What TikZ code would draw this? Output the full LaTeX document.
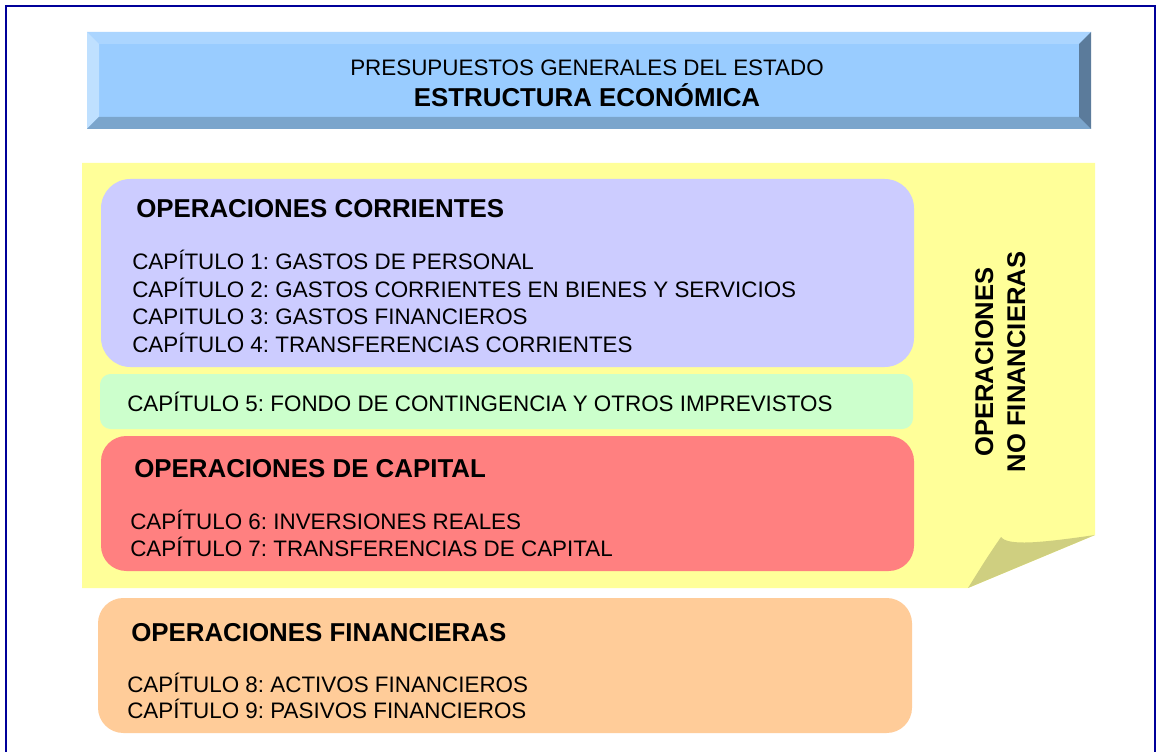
\documentclass[tikz,border=0pt]{standalone}
\usepackage{fontspec}
\setmainfont{Liberation Sans}
\frenchspacing
\definecolor{frameblue}{HTML}{000099}
\definecolor{bannermid}{HTML}{99CCFF}
\definecolor{bevtop}{HTML}{ABD5FF}
\definecolor{bevleft}{HTML}{BFE0FF}
\definecolor{bevbot}{HTML}{7BA5CC}
\definecolor{bevright}{HTML}{5B7B9B}
\definecolor{noteyellow}{HTML}{FFFF99}
\definecolor{foldshadow}{HTML}{CFCF80}
\definecolor{corrpurple}{HTML}{CCCCFF}
\definecolor{contgreen}{HTML}{CCFFCC}
\definecolor{capred}{HTML}{FF8080}
\definecolor{finorange}{HTML}{FFCC99}
\tikzset{
  chap/.style={anchor=base west, inner sep=0pt, font=\fontsize{16.8pt}{20pt}\selectfont\frenchspacing},
  ttl/.style={anchor=base west, inner sep=0pt, font=\fontsize{19.4pt}{22pt}\selectfont\bfseries},
  vert/.style={anchor=base, inner sep=0pt, rotate=90, font=\fontsize{19.2pt}{22pt}\selectfont\bfseries},
}
\begin{document}
\begin{tikzpicture}[x=0.75pt,y=-0.75pt]
\useasboundingbox (0,0) rectangle (1156,752);
\fill[white] (0,0) rectangle (1156,752);
% frame
\draw[frameblue, line width=1.5pt] (6,800) -- (6,6) -- (1155,6) -- (1155,800);
% banner
\fill[bannermid] (87,32) rectangle (1091,129);
\fill[bevtop] (87,32) -- (1091,32) -- (1079,44) -- (99,44) -- cycle;
\fill[bevleft] (87,32) -- (99,44) -- (99,117) -- (87,129) -- cycle;
\fill[bevbot] (87,129) -- (99,117) -- (1079,117) -- (1091,129) -- cycle;
\fill[bevright] (1091,32) -- (1079,44) -- (1079,117) -- (1091,129) -- cycle;
\node[anchor=base, inner sep=0pt, font=\fontsize{16.8pt}{19pt}\selectfont] (pge) at (587,76) {PRESUPUESTOS GENERALES DEL ESTADO};
\node[anchor=base, inner sep=0pt, font=\fontsize{19.4pt}{22pt}\selectfont\bfseries] (est) at (587,107) {ESTRUCTURA ECONÓMICA};
% yellow note with folded corner
\fill[noteyellow] (82,163) -- (1095,163) -- (1095,535) -- (968,588) -- (82,588) -- cycle;
\fill[foldshadow] (968,588) -- (1095,535) .. controls (1040,543) and (1008,546) .. (1001,537) .. controls (988,556) .. (968,588) -- cycle;
% boxes
\fill[corrpurple, rounded corners=22pt] (101,179) rectangle (914,367);
\fill[contgreen, rounded corners=8pt] (100,374) rectangle (913,429);
\fill[capred, rounded corners=19pt] (101,436) rectangle (914,571);
\fill[finorange, rounded corners=19pt] (98,598) rectangle (912,733);
% texts
\node[ttl] (t1) at (136,218) {OPERACIONES CORRIENTES};
\node[chap] (c1) at (132,270) {CAPÍTULO 1: GASTOS DE PERSONAL};
\node[chap] (c2) at (132,297) {CAPÍTULO 2: GASTOS CORRIENTES EN BIENES Y SERVICIOS};
\node[chap] (c3) at (132,324) {CAPITULO 3: GASTOS FINANCIEROS};
\node[chap] (c4) at (132,352) {CAPÍTULO 4: TRANSFERENCIAS CORRIENTES};
\node[chap] (c5) at (127,411) {CAPÍTULO 5: FONDO DE CONTINGENCIA Y OTROS IMPREVISTOS};
\node[ttl] (t2) at (134,477) {OPERACIONES DE CAPITAL};
\node[chap] (c6) at (130,529) {CAPÍTULO 6: INVERSIONES REALES};
\node[chap] (c7) at (130,556) {CAPÍTULO 7: TRANSFERENCIAS DE CAPITAL};
\node[ttl] (t3) at (131,641) {OPERACIONES FINANCIERAS};
\node[chap] (c8) at (127,692) {CAPÍTULO 8: ACTIVOS FINANCIEROS};
\node[chap] (c9) at (127,718) {CAPÍTULO 9: PASIVOS FINANCIEROS};
\node[vert] (v1) at (993,362) {OPERACIONES};
\node[vert] (v2) at (1025,362) {NO FINANCIERAS};
\end{tikzpicture}
\end{document}
